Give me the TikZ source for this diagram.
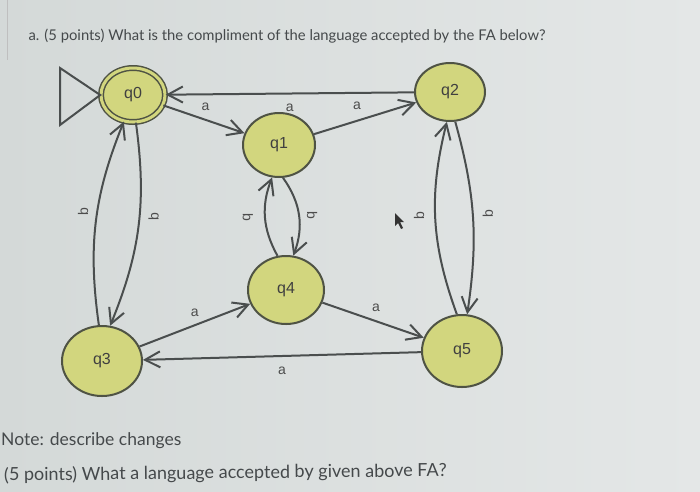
\documentclass[tikz,border=0pt]{standalone}
\usepackage{fontspec}
\setmainfont{Lato}
\newfontfamily\diag{Liberation Sans}
\usetikzlibrary{arrows.meta,shapes.geometric}
\definecolor{bgL}{HTML}{D4D9D8}
\definecolor{bgR}{HTML}{E4E7E7}
\definecolor{stfill}{HTML}{D2D67E}
\definecolor{stline}{HTML}{4F5344}
\definecolor{edgec}{HTML}{4A4E4E}
\definecolor{txt}{HTML}{45494B}
\begin{document}
\begin{tikzpicture}[x=1pt,y=-1pt,
  state/.style={ellipse,draw=stline,line width=2pt,fill=stfill,inner sep=0pt,
    font=\diag\fontsize{16}{16}\selectfont,text=black!75},
  tr/.style={draw=edgec,line width=2pt,-{Straight Barb[length=15pt,width=16pt,line width=2pt]}},
  lbl/.style={font=\diag\fontsize{14}{14}\selectfont,text=black!70,inner sep=1pt},
]
\useasboundingbox (0,0) rectangle (700,491);
\clip (0,0) rectangle (700,491);
\shade[left color=bgL,right color=bgR] (0,0) rectangle (700,491);
\draw[black!25,line width=0.6pt] (7,0) -- (7,60);

\node[anchor=base west,font=\fontsize{14.8}{16}\selectfont,text=txt] (t1) at (25,40)
  {a. (5 points) What is the compliment of the language accepted by the FA below?};

% states
\node[state,double=stfill,double distance=3pt,line width=1.5pt,
      minimum width=64pt,minimum height=54pt] (q0) at (133,95) {q0};
\node[state,minimum width=72pt,minimum height=64pt] (q1) at (279,145) {q1};
\node[state,minimum width=70pt,minimum height=58pt] (q2) at (450,92) {q2};
\node[state,minimum width=80pt,minimum height=70pt] (q3) at (102,361) {q3};
\node[state,minimum width=76pt,minimum height=68pt] (q4) at (286,290) {q4};
\node[state,minimum width=80pt,minimum height=72pt] (q5) at (462,351) {q5};

% initial marker
\coordinate (i1) at (60,68);
\coordinate (i2) at (60,125);
\draw[draw=edgec,line width=2pt,line join=miter] (i1) -- (q0.west) -- (i2) -- cycle;

% straight transitions
\draw[tr] (q2) -- node[lbl,below=8pt,pos=0.5]{a} (q0);
\draw[tr] (q0) -- node[lbl,above=7pt,pos=0.52]{a} (q1);
\draw[tr] (q1) -- node[lbl,above=9pt,pos=0.42]{a} (q2);
\draw[tr] (q3) -- node[lbl,above=7pt,pos=0.5]{a} (q4);
\draw[tr] (q4) -- node[lbl,above=8pt,pos=0.53]{a} (q5);
\draw[tr] (q5) -- node[lbl,below=9pt,pos=0.5]{a} (q3);

% curved transitions
\draw[tr] (q3.95) to[bend left=15] node[lbl,left=7pt,pos=0.55]{\rotatebox{90}{b}} (q0.251);
\draw[tr] (q0.276) to[bend left=15] node[lbl,right=7pt,pos=0.45]{\rotatebox{90}{b}} (q3.77);
\draw[tr] (q4.104) to[bend left=25] node[lbl,left=10pt]{\rotatebox{-90}{b}} (q1.258);
\draw[tr] (q1.277) to[bend left=28] node[lbl,right=6pt]{\rotatebox{-90}{b}} (q4.78);
\draw[tr] (q5.98) to[bend left=17] node[lbl,left=9pt,pos=0.52]{\rotatebox{90}{b}} (q2.264);
\draw[tr] (q2.280) to[bend left=12] node[lbl,right=8pt,pos=0.48]{\rotatebox{90}{b}} (q5.82);

% mouse pointer
\fill[black!80] (395,213) -- (395,226) -- (398,223) -- (401,229) -- (403,228) -- (400,222) -- (404,222) -- cycle;

% lower texts
\node[anchor=base west,font=\fontsize{17.5}{20}\selectfont,text=txt,inner sep=0pt] (t2) at (1,445)
  {Note: describe changes};
\node[anchor=base west,font=\fontsize{18}{21}\selectfont,text=txt,rotate=0.6,inner sep=0pt] (t3) at (4,481)
  {(5 points) What a language accepted by given above FA?};
\end{tikzpicture}
\end{document}
